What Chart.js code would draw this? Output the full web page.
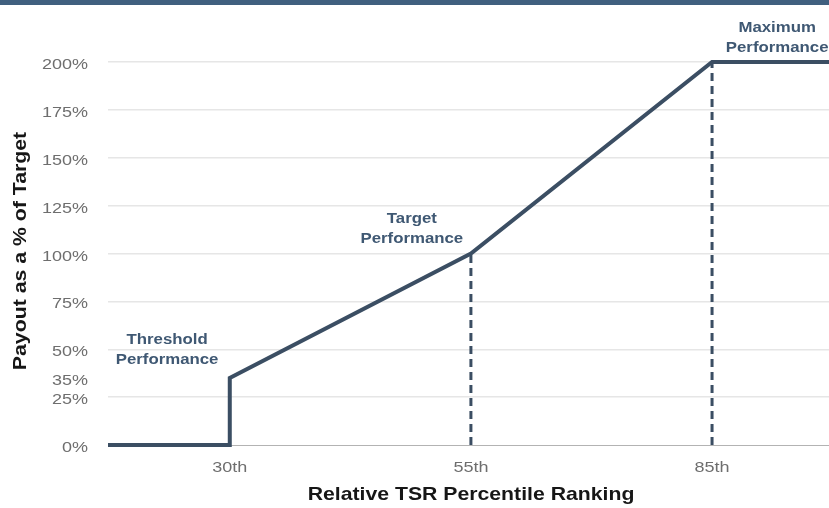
<!DOCTYPE html>
<html>
<head>
<meta charset="utf-8">
<script src="https://cdn.jsdelivr.net/npm/chart.js@4/dist/chart.umd.min.js"></script>
<style>
  body { margin: 0; background: #fff; }
  #wrap { position: relative; width: 829px; height: 508px; }
  #topbar { position: absolute; left: 0; top: 0; width: 829px; height: 5px; background: #40607f; }
</style>
</head>
<body>
<div id="wrap">
  <canvas id="payoutChart" width="829" height="508"></canvas>
  <div id="topbar"></div>
</div>
<script>
// x positions are slots on the axis (30th, 55th, 85th sit at 1, 3, 5)
const xMin = -0.01;
const xMax = 5.97;
const positions = [xMin, 1, 1, 3, 5, xMax];
const payout = [0, 0, 35, 100, 200, 200];
const xTickValues = [1, 3, 5];
const xTickLabels = ['30th', '55th', '85th'];
const yTickValues = [0, 25, 35, 50, 75, 100, 125, 150, 175, 200];
const targetLine = [[3, 0], [3, 100]];
const maxLine = [[5, 0], [5, 200]];
const xTitle = 'Relative TSR Percentile Ranking';
const yTitle = 'Payout as a % of Target';
const notes = [
    { text: ['Threshold', 'Performance'], x: 0.48, y: 52.7 },
    { text: ['Target', 'Performance'], x: 2.51, y: 115.8 },
    { text: ['Maximum', 'Performance'], x: 5.54, y: 215.5 }
];

const lineColor = '#3b4e63';
const fontFamily = '"Liberation Sans", Arial, Helvetica, sans-serif';
// the source picture has its lettering drawn about 1.2x wide
const stretch = 1.2;

function wideText(c, text, x, y, align, sx, angle) {
    c.save();
    c.translate(x, y);
    if (angle) c.rotate(angle);
    c.scale(sx, 1);
    c.textAlign = align;
    c.fillText(text, 0, 0);
    c.restore();
}

const textPlugin = {
    id: 'wideLabels',
    afterDraw(chart) {
        const c = chart.ctx;
        const xs = chart.scales.x, ys = chart.scales.y;
        c.save();
        c.textBaseline = 'alphabetic';

        // tick labels
        c.font = '15px ' + fontFamily;
        c.fillStyle = '#6e6e6e';
        yTickValues.forEach(v => {
            wideText(c, `${v}%`, 88, ys.getPixelForValue(v) + 7, 'right', stretch);
        });
        xTickValues.forEach((v, i) => {
            wideText(c, xTickLabels[i], xs.getPixelForValue(v), 472, 'center', stretch);
        });

        // axis titles
        c.fillStyle = '#161616';
        c.font = 'bold 17.7px ' + fontFamily;
        wideText(c, xTitle, 471, 500, 'center', stretch);
        c.font = 'bold 18.5px ' + fontFamily;
        wideText(c, yTitle, 26, 251, 'center', 1.15, -Math.PI / 2);

        // notes above the three kink points
        c.font = 'bold 14px ' + fontFamily;
        c.fillStyle = '#3f5873';
        notes.forEach(n => {
            const px = xs.getPixelForValue(n.x);
            const py = ys.getPixelForValue(n.y);
            wideText(c, n.text[0], px, py, 'center', stretch);
            wideText(c, n.text[1], px, py + 19.5, 'center', stretch);
        });
        c.restore();
    }
};

function initializeChart() {
    const ctx = document.getElementById('payoutChart').getContext('2d');

    const data = {
        datasets: [{
            data: positions.map((x, i) => ({ x: x, y: payout[i] })),
            borderColor: lineColor,
            borderWidth: 4,
            pointRadius: 0,
            clip: false
        }, {
            data: targetLine.map(p => ({ x: p[0], y: p[1] })),
            borderColor: lineColor,
            borderWidth: 3,
            borderDash: [8, 5],
            pointRadius: 0,
            clip: false
        }, {
            data: maxLine.map(p => ({ x: p[0], y: p[1] })),
            borderColor: lineColor,
            borderWidth: 3,
            borderDash: [8, 5],
            pointRadius: 0,
            clip: false
        }]
    };

    const config = {
        type: 'line',
        data: data,
        options: {
            responsive: false,
            animation: false,
            layout: { padding: { top: 62, right: 0, left: 0, bottom: 0 } },
            plugins: {
                legend: { display: false },
                tooltip: { enabled: false }
            },
            scales: {
                x: {
                    type: 'linear',
                    min: xMin,
                    max: xMax,
                    afterBuildTicks: axis => { axis.ticks = xTickValues.map(v => ({ value: v })); },
                    afterFit: axis => { axis.height = 63; },
                    grid: { display: false, drawTicks: false },
                    border: { display: true, color: '#b3b3b3', width: 1 },
                    ticks: { display: false }
                },
                y: {
                    min: 0,
                    max: 200,
                    afterBuildTicks: axis => { axis.ticks = yTickValues.map(v => ({ value: v })); },
                    afterFit: axis => { axis.width = 108; },
                    grid: {
                        drawTicks: false,
                        color: c => (c.tick && (c.tick.value === 35 || c.tick.value === 0)) ? 'rgba(0,0,0,0)' : '#e6e6e6',
                        lineWidth: 1.5
                    },
                    border: { display: false },
                    ticks: { display: false }
                }
            }
        },
        plugins: [textPlugin]
    };

    new Chart(ctx, config);
}

document.addEventListener('DOMContentLoaded', initializeChart);
</script>
</body>
</html>
